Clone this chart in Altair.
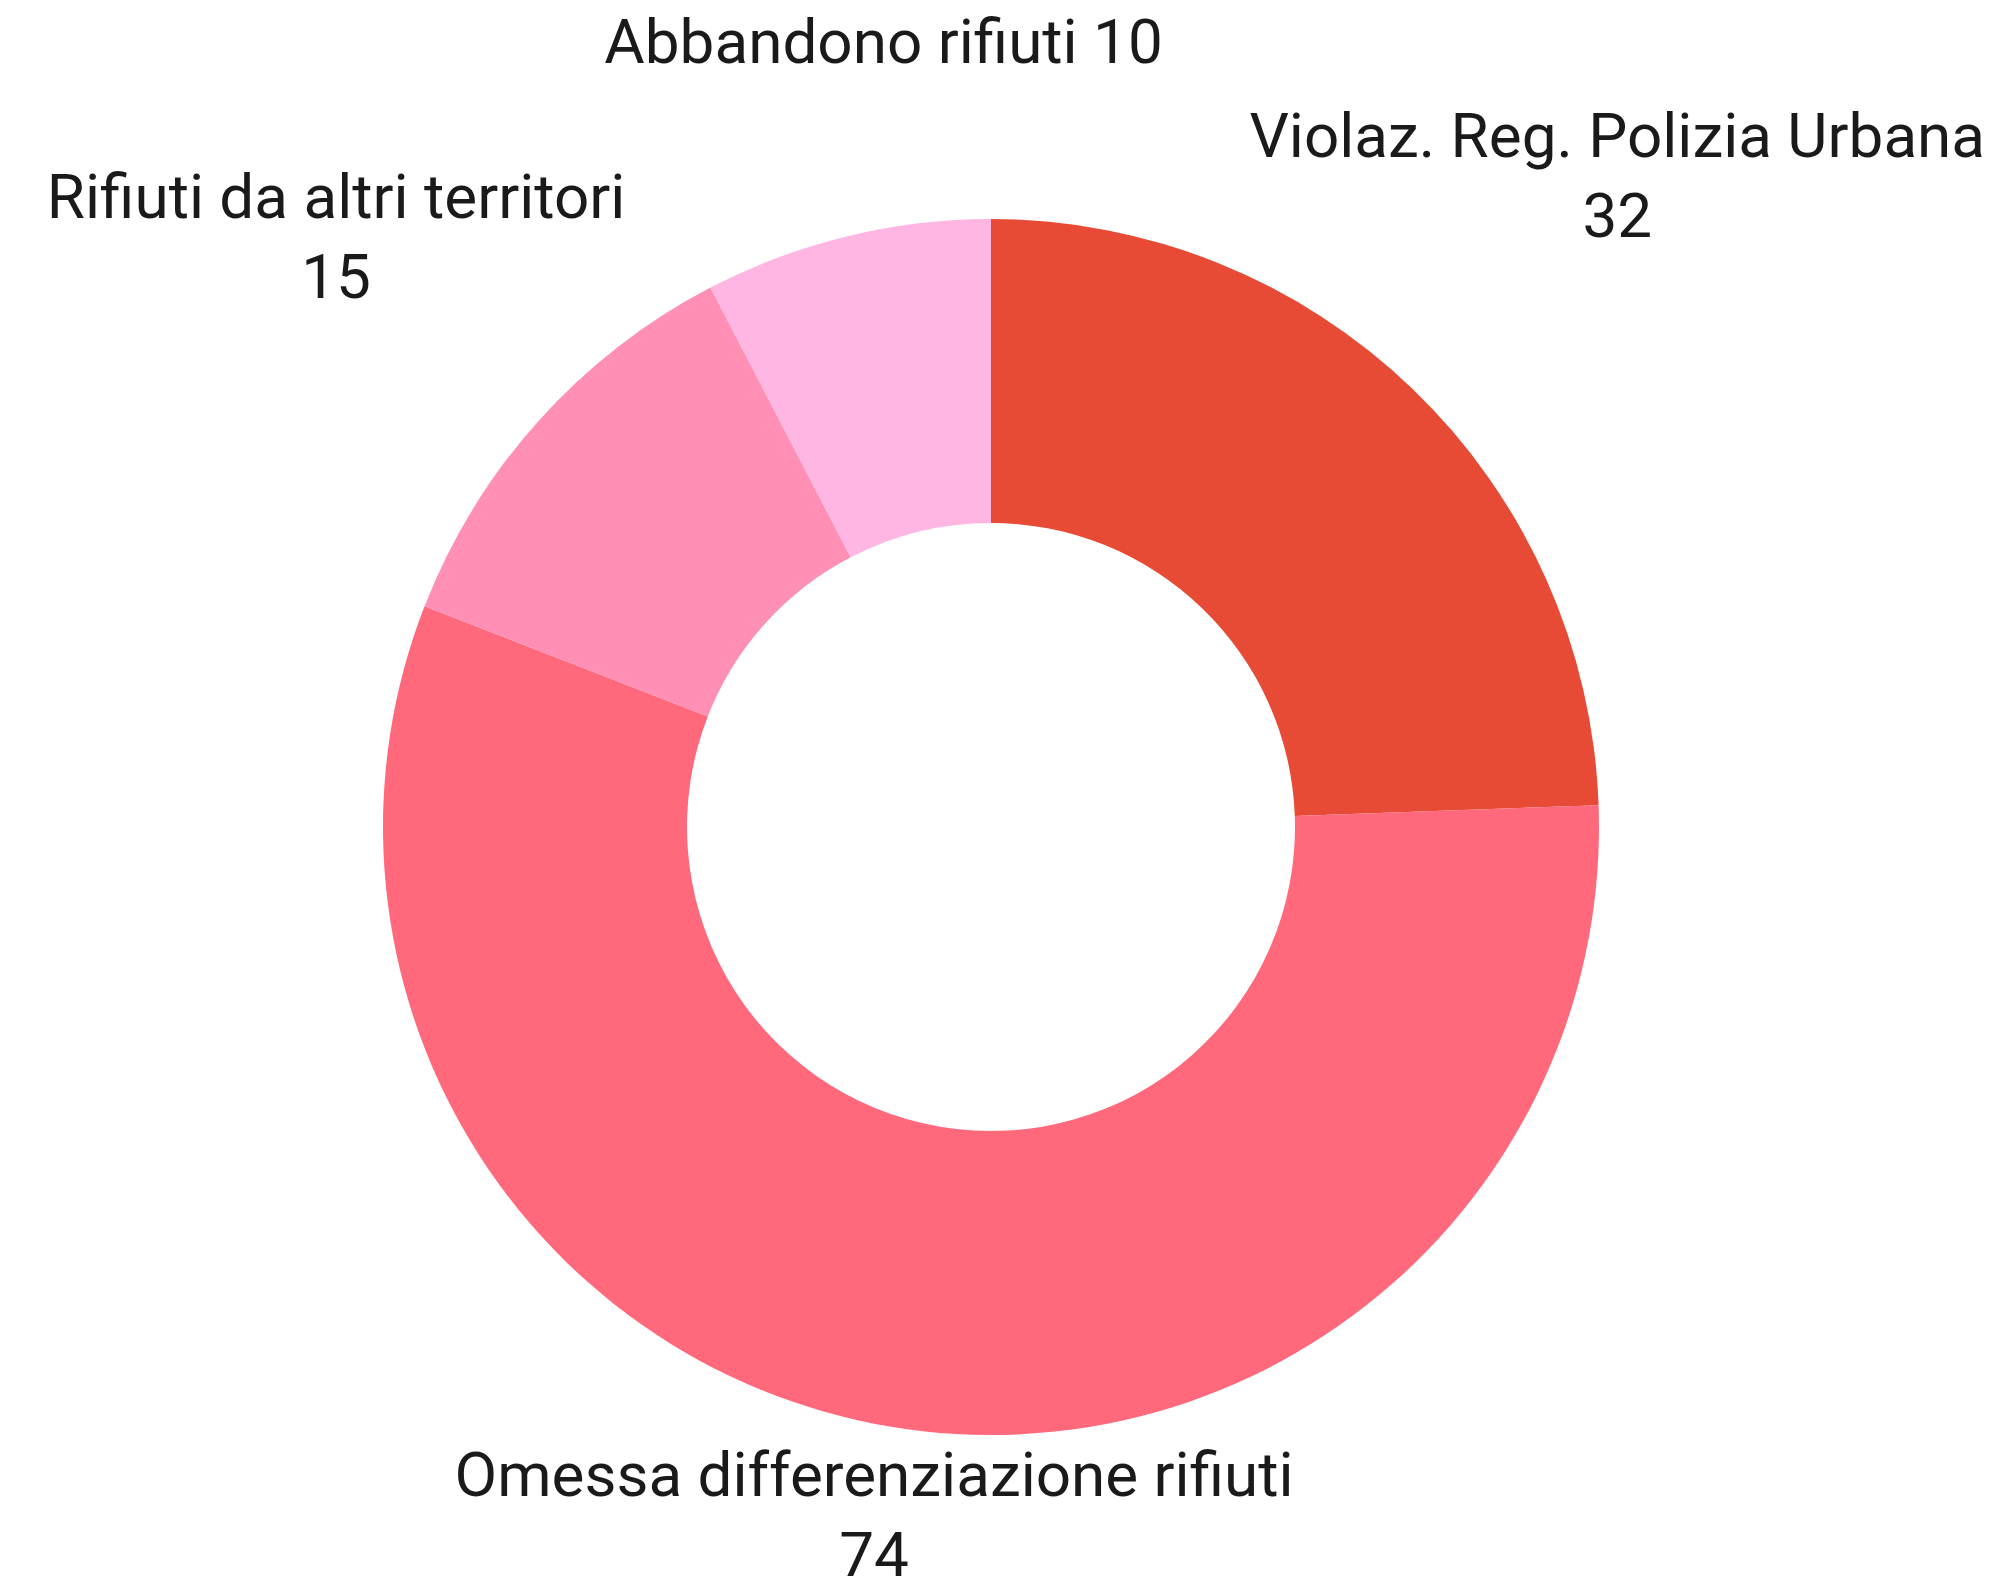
import altair as alt
import pandas as pd

# data
categories = ["Violaz. Reg. Polizia Urbana", "Omessa differenziazione rifiuti",
              "Rifiuti da altri territori", "Abbandono rifiuti"]
values = [32, 74, 15, 10]
colors = ["#E84B35", "#FF697B", "#FF8FB5", "#FFB6E2"]
label_texts = ["Violaz. Reg. Polizia Urbana\n32", "Omessa differenziazione rifiuti\n74",
               "Rifiuti da altri territori\n15", "Abbandono rifiuti 10"]

# layout
label_radius = [902, 700, 880, 806]
label_dx = [0, 0, 0, 84]
LH = 80
CX, CY = 983, 819
R_OUT, R_IN = 608, 304
FONT = "Roboto"
FS = 62

total = sum(values)
cum = 0
mids = []
for v in values:
    mids.append(cum + v / 2)
    cum += v

df = pd.DataFrame({
    "cat": categories,
    "value": values,
    "order": list(range(len(values))),
    "mid": mids,
    "label": label_texts,
})

theta_scale = alt.Scale(domain=[0, total])

arcs = alt.Chart(df).mark_arc(outerRadius=R_OUT, innerRadius=R_IN).encode(
    theta=alt.Theta("value:Q", stack=True, scale=theta_scale),
    order=alt.Order("order:Q"),
    color=alt.Color("cat:N", scale=alt.Scale(domain=categories, range=colors), legend=None),
    x=alt.value(CX),
    y=alt.value(CY),
)

layers = [arcs]
for i, c in enumerate(categories):
    n_lines = label_texts[i].count("\n") + 1
    t = alt.Chart(df).transform_filter(alt.datum.cat == c).mark_text(
        font=FONT, fontSize=FS, lineBreak="\n", lineHeight=LH,
        align="center", baseline="middle", color="#1a1a1a",
        dx=label_dx[i], dy=-(n_lines - 1) * LH / 2,
    ).encode(
        theta=alt.Theta("mid:Q", stack=None, scale=theta_scale),
        radius=alt.value(label_radius[i]),
        text="label:N",
        x=alt.value(CX),
        y=alt.value(CY),
    )
    layers.append(t)

chart = alt.layer(*layers).properties(
    width=1986, height=1570, autosize="none", padding=0,
).configure_view(stroke=None)

chart.save("out.html", embed_options={"renderer": "svg", "actions": False})
